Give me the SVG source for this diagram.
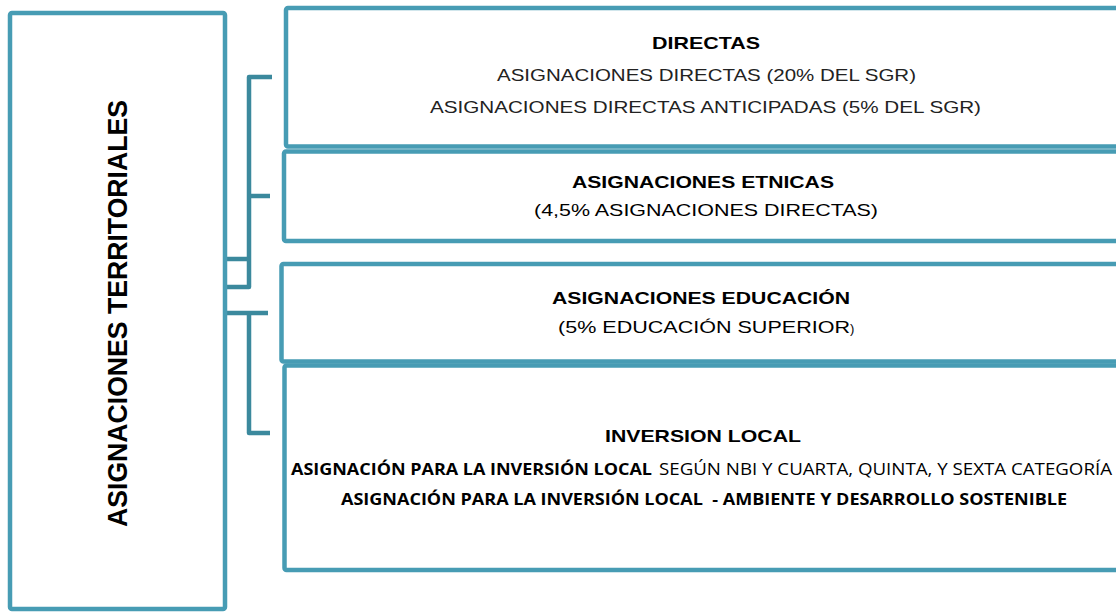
<svg xmlns="http://www.w3.org/2000/svg" width="1116" height="613" viewBox="0 0 1116 613">
  <style>
    .box { fill: #ffffff; stroke: #479CB4; stroke-width: 4.5; }
    .conn { fill: none; stroke: #3B899D; stroke-width: 4.5; stroke-linejoin: round; }
    .hd { font-family: "Liberation Sans", Arial, sans-serif; font-weight: bold; font-size: 17px; fill: #000; text-anchor: middle; }
    .lt { font-family: "Liberation Sans", Arial, sans-serif; font-weight: normal; font-size: 17px; fill: #222; text-anchor: middle; }
    .rg { font-family: "Liberation Sans", Arial, sans-serif; font-weight: normal; font-size: 17px; fill: #000; text-anchor: middle; }
    .cb { font-family: "Open Sans", "Liberation Sans", sans-serif; font-weight: bold; font-size: 16px; fill: #000; }
    .cr { font-family: "Open Sans", "Liberation Sans", sans-serif; font-weight: normal; font-size: 16px; fill: #000; }
    .vt { font-family: "Liberation Sans", Arial, sans-serif; font-weight: bold; font-size: 28px; fill: #000; text-anchor: middle; }
  </style>

  <g id="connectors">
    <path class="conn" d="M272,77 H249 V287 H225"/>
    <path class="conn" d="M249,196 H270"/>
    <path class="conn" d="M225,259 H249"/>
    <path class="conn" d="M225,313 H268"/>
    <path class="conn" d="M249,313 V433 H270"/>
  </g>

  <g id="node-territoriales">
    <rect class="box" x="10" y="13" width="215" height="596" rx="2"/>
    <text class="vt" transform="translate(127,313.5) rotate(-90)" x="0" y="0" textLength="427" lengthAdjust="spacingAndGlyphs">ASIGNACIONES TERRITORIALES</text>
  </g>

  <g id="node-directas">
    <rect class="box" x="286" y="8" width="845" height="138.5" rx="2"/>
    <text class="hd" x="706" y="49" textLength="108" lengthAdjust="spacingAndGlyphs">DIRECTAS</text>
    <text class="lt" x="706.5" y="81" textLength="419" lengthAdjust="spacingAndGlyphs">ASIGNACIONES DIRECTAS (20% DEL SGR)</text>
    <text class="lt" x="705.5" y="113" textLength="551" lengthAdjust="spacingAndGlyphs">ASIGNACIONES DIRECTAS ANTICIPADAS (5% DEL SGR)</text>
  </g>

  <g id="node-etnicas">
    <rect class="box" x="284" y="151.5" width="847" height="89.5" rx="2"/>
    <text class="hd" x="703" y="188" textLength="262" lengthAdjust="spacingAndGlyphs">ASIGNACIONES ETNICAS</text>
    <text class="rg" x="706" y="216" textLength="344" lengthAdjust="spacingAndGlyphs">(4,5% ASIGNACIONES DIRECTAS)</text>
  </g>

  <g id="node-educacion">
    <rect class="box" x="281.5" y="264" width="850" height="97.5" rx="2"/>
    <text class="hd" x="701" y="304" textLength="298" lengthAdjust="spacingAndGlyphs">ASIGNACIONES EDUCACIÓN</text>
    <text class="rg" x="558" y="333" style="text-anchor:start" textLength="292" lengthAdjust="spacingAndGlyphs">(5% EDUCACIÓN SUPERIOR</text>
    <text class="rg" x="850" y="333" style="text-anchor:start;font-size:13px">)</text>
  </g>

  <g id="node-inversion">
    <rect class="box" x="284.5" y="365.5" width="847" height="204.5" rx="2"/>
    <text class="hd" x="703" y="442" textLength="196" lengthAdjust="spacingAndGlyphs">INVERSION LOCAL</text>
    <text class="cb" x="291" y="475" textLength="361" lengthAdjust="spacingAndGlyphs">ASIGNACIÓN PARA LA INVERSIÓN LOCAL</text>
    <text class="cr" x="659" y="475" textLength="453" lengthAdjust="spacingAndGlyphs">SEGÚN NBI Y CUARTA, QUINTA, Y SEXTA CATEGORÍA</text>
    <text class="cb" x="341" y="505" textLength="726" lengthAdjust="spacingAndGlyphs" xml:space="preserve">ASIGNACIÓN PARA LA INVERSIÓN LOCAL  - AMBIENTE Y DESARROLLO SOSTENIBLE</text>
  </g>
</svg>
